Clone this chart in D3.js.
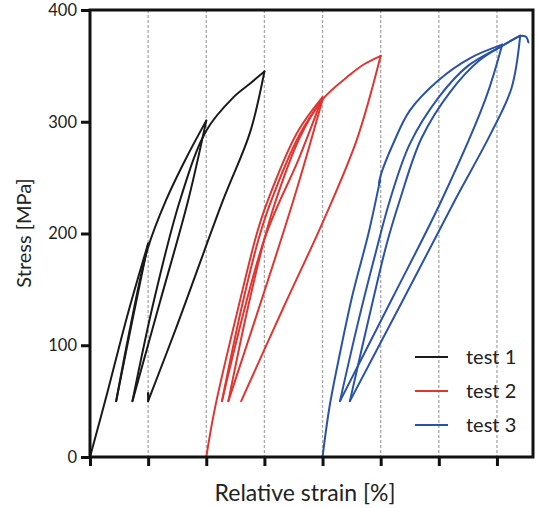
<!DOCTYPE html>
<html>
<head>
<meta charset="utf-8">
<script src="https://cdn.jsdelivr.net/npm/d3@7"></script>
<style>
  html, body { margin: 0; padding: 0; background: #fff; }
  svg { display: block; font-family: Lato, "Open Sans", sans-serif; }
</style>
</head>
<body>
<svg id="chart" width="538" height="508"></svg>
<script>
// ---- data (strain in grid units, stress in MPa) ----
const seriesNames = ["test 1", "test 2", "test 3"];
const seriesColors = ["#1a1a1a", "#e3342f", "#2a52a6"];
const yTicks = [0, 100, 200, 300, 400];
const xTicks = [0, 1, 2, 3, 4, 5, 6, 7];

const test1Strain = [0, 0.3, 0.65, 1.0, 0.72, 0.45, 0.70, 0.99, 1.31, 1.66, 2.0, 1.69, 1.2, 0.73, 1.1, 1.55, 2.0, 2.47, 2.75, 3.0, 2.75, 2.29, 1.5, 1.0, 1.0, 1.01];
const test1Stress = [0, 58, 128, 191, 120, 50, 118, 186, 230, 268, 301, 230, 138, 50, 140, 230, 292, 322, 334, 345, 290, 230, 118, 50, 57, 52];

const test2Strain = [2.0, 2.15, 2.58, 2.87, 3.04, 3.56, 4.0, 3.6, 3.0, 2.27, 2.6, 2.9, 3.1, 3.6, 4.0, 3.5, 2.38, 2.7, 3.0, 3.18, 3.6, 4.0, 4.47, 4.7, 5.0, 4.59, 4.02, 3.33, 2.6];
const test2Stress = [0, 44, 140, 200, 227, 290, 322, 268, 195, 50, 132, 195, 227, 288, 320, 230, 50, 130, 195, 227, 285, 320, 342, 351, 359, 284, 212, 134, 50];

const test3Strain = [4.0, 4.12, 4.3, 4.52, 4.79, 4.99, 4.97, 5.0, 5.22, 5.5, 5.99, 6.54, 7.09, 6.8, 6.05, 5.2, 4.3, 4.6, 4.9, 5.16, 5.5, 6.0, 6.5, 7.09, 7.4, 7.25, 6.9, 6.28, 5.4, 4.47, 4.8, 5.1, 5.33, 5.7, 6.2, 6.7, 7.09, 7.4, 7.5, 7.54];
const test3Stress = [0, 45, 93, 146, 200, 248, 244, 252, 281, 310, 337, 357, 369, 320, 230, 142, 50, 118, 180, 230, 280, 322, 350, 368, 377, 330, 290, 230, 142, 50, 125, 190, 230, 285, 327, 355, 368, 377, 376, 371];

const seriesStrain = [test1Strain, test2Strain, test3Strain];
const seriesStress = [test1Stress, test2Stress, test3Stress];

// ---- layout ----
const svg = d3.select("#chart");
const x = d3.scaleLinear().domain([0, 7.62]).range([90, 533]);
const y = d3.scaleLinear().domain([0, 400]).range([457, 10]);

// grid
svg.append("g").selectAll("line")
  .data(xTicks.filter(d => d > 0))
  .join("line")
  .attr("x1", d => x(d)).attr("x2", d => x(d))
  .attr("y1", y(400)).attr("y2", y(0))
  .attr("stroke", "#a8a8a8").attr("stroke-width", 1.3)
  .attr("stroke-dasharray", "3,2");

// split a series into loading / unloading branches (where stress changes direction)
function branches(pts) {
  const out = [];
  let cur = [pts[0]];
  let dir = 0;
  for (let k = 1; k < pts.length; k++) {
    const d = Math.sign(pts[k][1] - pts[k - 1][1]);
    if (dir !== 0 && d !== 0 && d !== dir) {
      out.push(cur);
      cur = [pts[k - 1]];
    }
    if (d !== 0) dir = d;
    cur.push(pts[k]);
  }
  out.push(cur);
  return out;
}

// data lines
const line = d3.line().x(d => x(d[0])).y(d => y(d[1])).curve(d3.curveCatmullRom.alpha(0.5));
seriesNames.forEach((name, i) => {
  const pts = seriesStrain[i].map((v, k) => [v, seriesStress[i][k]]);
  svg.append("g").selectAll("path")
    .data(branches(pts))
    .join("path")
    .attr("d", line)
    .attr("fill", "none")
    .attr("stroke", seriesColors[i])
    .attr("stroke-width", 2)
    .attr("stroke-linejoin", "round")
    .attr("stroke-linecap", "round");
});

// frame
svg.append("rect")
  .attr("x", x(0)).attr("y", y(400))
  .attr("width", x(7.62) - x(0)).attr("height", y(0) - y(400))
  .attr("fill", "none").attr("stroke", "#111").attr("stroke-width", 3);

// axes
const xAxis = svg.append("g").attr("transform", `translate(0,${y(0)})`)
  .call(d3.axisBottom(x).tickValues(xTicks).tickFormat("").tickSize(9).tickSizeOuter(0));
xAxis.select(".domain").remove();
xAxis.selectAll(".tick line").attr("stroke", "#111").attr("stroke-width", 3);

const yAxis = svg.append("g").attr("transform", `translate(${x(0)},0)`)
  .call(d3.axisLeft(y).tickValues(yTicks).tickSize(9).tickSizeOuter(0).tickPadding(4));
yAxis.select(".domain").remove();
yAxis.selectAll(".tick line").attr("stroke", "#111").attr("stroke-width", 3);
yAxis.selectAll(".tick text").attr("font-size", 16.5).attr("fill", "#222")
  .attr("font-family", "Lato, sans-serif");

// axis titles
svg.append("text")
  .attr("x", 305).attr("y", 501)
  .attr("text-anchor", "middle").attr("font-size", 23).attr("fill", "#222")
  .text("Relative strain [%]");
svg.append("text")
  .attr("transform", "translate(31,233) rotate(-90)")
  .attr("text-anchor", "middle").attr("font-size", 20).attr("fill", "#222")
  .text("Stress [MPa]");

// legend
const legY = [357, 391, 425];
seriesNames.forEach((name, i) => {
  svg.append("line")
    .attr("x1", 415).attr("x2", 448)
    .attr("y1", legY[i]).attr("y2", legY[i])
    .attr("stroke", seriesColors[i]).attr("stroke-width", 2);
  svg.append("text")
    .attr("x", 466).attr("y", legY[i] + 7)
    .attr("font-size", 20).attr("fill", "#222")
    .text(name);
});
</script>
</body>
</html>
